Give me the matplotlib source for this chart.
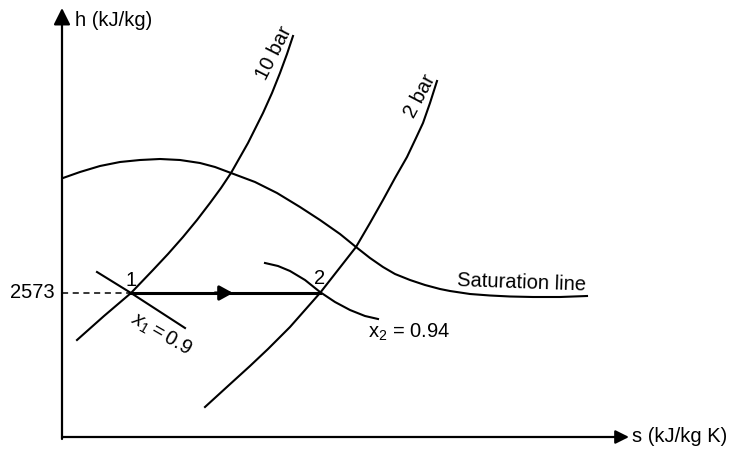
import numpy as np
import matplotlib.pyplot as plt

plt.rcParams['font.family'] = ['Liberation Sans', 'DejaVu Sans']
plt.rcParams['mathtext.fontset'] = 'custom'
plt.rcParams['mathtext.rm'] = 'Liberation Sans'
plt.rcParams['mathtext.it'] = 'Liberation Sans:italic'

# h-s sketch in diagram units (s to the right, h upwards)
sat_s = [63, 80, 100, 120, 140, 160, 180, 200, 215, 231, 255, 277, 300, 320,
         340, 356, 370, 383, 395, 410, 425, 440, 450, 470, 490, 510, 533, 560, 587]
sat_h = [272, 278, 284, 288, 290, 291, 290, 287, 283, 277, 268, 257, 243, 230,
         216, 203, 192, 183, 176, 170, 165, 161, 159, 156, 154.5, 153.5, 153, 153, 154]

p10_s = [77, 104, 131, 153, 168, 183, 197, 210, 221, 231, 248, 263, 272, 280, 287, 293]
p10_h = [110, 134, 157, 180, 196, 213, 230, 247, 262, 277, 307, 337, 357, 377, 396, 414]

p2_s = [205, 228, 250, 268, 290, 305, 320, 338, 356, 370, 383, 395, 407, 416, 423, 430, 437]
p2_h = [43, 64, 84, 101, 123, 140, 157, 180, 203, 227, 250, 272, 293, 312, 327, 347, 369]

x1_s = [97, 131, 185]
x1_h = [178, 157, 122]

x2_s = [265, 278, 290, 305, 320, 335, 350, 365, 378]
x2_h = [187, 184, 179, 170, 158, 148, 140, 134, 131]

h1 = 157          # 2573 kJ/kg, state 1 and state 2
s1, s2 = 131, 320
s0, h0 = 62, 13   # origin of the axes

fig = plt.figure(figsize=(7.31, 4.5), dpi=100)
ax = fig.add_axes([0, 0, 1, 1])
ax.set_xlim(0, 731)
ax.set_ylim(0, 450)
ax.axis('off')

lw = 1.5
ax.plot(sat_s, sat_h, color='k', lw=lw)
ax.plot(p10_s, p10_h, color='k', lw=lw)
ax.plot(p2_s, p2_h, color='k', lw=lw)
ax.plot(x1_s, x1_h, color='k', lw=lw)
ax.plot(x2_s, x2_h, color='k', lw=lw)

# axes with arrow heads
ax.annotate('', xy=(s0, 442), xytext=(s0, h0 - 2),
            arrowprops=dict(arrowstyle='-|>,head_length=1.0,head_width=0.5',
                            mutation_scale=10, lw=1.6, color='k',
                            shrinkA=0, shrinkB=0))
ax.annotate('', xy=(629, h0), xytext=(s0, h0),
            arrowprops=dict(arrowstyle='-|>,head_length=0.9,head_width=0.45',
                            mutation_scale=9, lw=1.6, color='k',
                            shrinkA=0, shrinkB=0))

# dashed guide to the h axis and the 1 -> 2 process
ax.plot([s0, s1], [h1, h1], color='k', lw=1.1, dashes=(4, 3))
ax.plot([s1, s2], [h1, h1], color='k', lw=2.2)
ax.annotate('', xy=(233, h1), xytext=(215, h1),
            arrowprops=dict(arrowstyle='-|>,head_length=1.0,head_width=0.55',
                            mutation_scale=8, lw=2.2, color='k',
                            shrinkA=0, shrinkB=0))

fs = 14.5
ax.text(75, 430, 'h (kJ/kg)', fontsize=fs, ha='left', va='center')
ax.text(632, 14, 's (kJ/kg K)', fontsize=fs, ha='left', va='center')
ax.text(55, h1, '2573', fontsize=fs, ha='right', va='center')
ax.text(131, 169, '1', fontsize=fs, ha='center', va='center')
ax.text(320, 172, '2', fontsize=fs, ha='center', va='center')
ax.text(161, 116, r'$\mathit{x_1 = 0.9}$', fontsize=fs, ha='center', va='center',
        rotation=-30, rotation_mode='anchor')
ax.text(368, 118, r'x$_2$ = 0.94', fontsize=fs, ha='left', va='center')
ax.text(274, 397, '10 bar', fontsize=fs, ha='center', va='center',
        rotation=63, rotation_mode='anchor')
ax.text(420, 354, '2 bar', fontsize=fs, ha='center', va='center',
        rotation=62, rotation_mode='anchor')
ax.text(522, 167, 'Saturation line', fontsize=fs, ha='center', va='center',
        rotation=-2, rotation_mode='anchor')

fig.savefig('out.png', dpi=100)
